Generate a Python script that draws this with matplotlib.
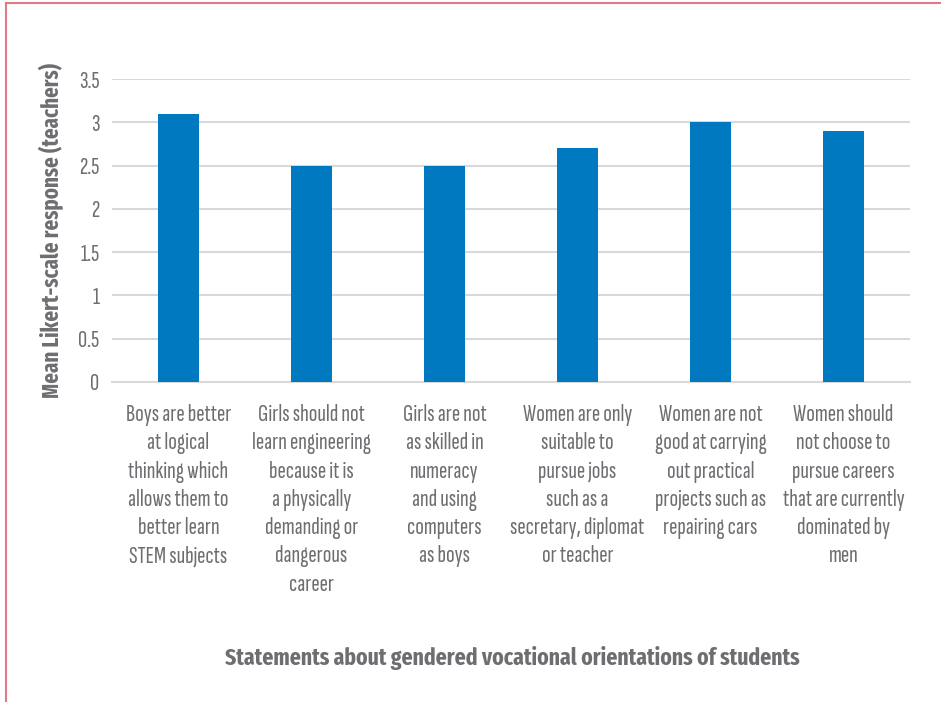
import matplotlib.pyplot as plt
from matplotlib.lines import Line2D
from matplotlib import font_manager

statements = [
    "Boys are better\nat logical\nthinking which\nallows them to\nbetter learn\nSTEM subjects",
    "Girls should not\nlearn engineering\nbecause it is\na physically\ndemanding or\ndangerous\ncareer",
    "Girls are not\nas skilled in\nnumeracy\nand using\ncomputers\nas boys",
    "Women are only\nsuitable to\npursue jobs\nsuch as a\nsecretary, diplomat\nor teacher",
    "Women are not\ngood at carrying\nout practical\nprojects such as\nrepairing cars",
    "Women should\nnot choose to\npursue careers\nthat are currently\ndominated by\nmen",
]
mean_response = [3.1, 2.5, 2.5, 2.7, 3.0, 2.9]
y_ticks = [0, 0.5, 1, 1.5, 2, 2.5, 3, 3.5]
y_tick_labels = ["0", "0.5", "1", "1.5", "2", "2.5", "3", "3.5"]
y_title = "Mean Likert-scale response (teachers)"
x_title = "Statements about gendered vocational orientations of students"

BLUE = "#0079c1"
GREY_TEXT = "#6d6e71"
GRID = "#d9d9d9"
FRAME = "#e07a85"

# pick a narrow face close to the original's Myriad Condensed
installed = {f.name for f in font_manager.fontManager.ttflist}
regular_pref = ["Sofia Sans Extra Condensed", "Saira Extra Condensed",
                "Fira Sans Extra Condensed", "PT Sans Narrow", "DejaVu Sans"]
bold_pref = ["Fira Sans Extra Condensed", "PT Sans Narrow", "DejaVu Sans"]
reg_font = next(f for f in regular_pref if f in installed or f == "DejaVu Sans")
bold_font = next(f for f in bold_pref if f in installed or f == "DejaVu Sans")

fig = plt.figure(figsize=(9.41, 7.02), dpi=100)
renderer = fig.canvas.get_renderer()


def text_px(s, family, size, weight="normal", linespacing=1.0):
    t = fig.text(0, 0, s, family=family, fontsize=size, fontweight=weight,
                 linespacing=linespacing)
    bb = t.get_window_extent(renderer)
    t.remove()
    return bb.width, bb.height


# size the texts so their widths match the reference picture
w, _ = text_px("Boys are better", reg_font, 20, "medium")
label_size = 20 * 105 / w
h1 = text_px("A", reg_font, label_size, "medium")[1]
h2 = text_px("A\nA", reg_font, label_size, "medium")[1]
label_spacing = 28.5 / (h2 - h1) * 28.5 / 27
w, _ = text_px(x_title, bold_font, 20, "bold")
xtitle_size = 20 * 576 / w
w, _ = text_px(y_title, bold_font, 20, "bold")
ytitle_size = 20 * 335 / w

ax = fig.add_axes([112 / 941, 1 - 382 / 702, 798 / 941, 303 / 702])

x = range(len(mean_response))
ax.bar(x, mean_response, width=0.31, color=BLUE, zorder=3)
ax.set_xlim(-0.5, len(mean_response) - 0.5)
ax.set_ylim(0, 3.5)
ax.set_yticks(y_ticks)
ax.set_yticklabels(y_tick_labels, family=reg_font, fontsize=label_size,
                   fontweight="medium", color=GREY_TEXT)
ax.yaxis.grid(True, color=GRID, linewidth=1.5, zorder=0)
ax.set_axisbelow(True)
for s in ["top", "right", "left"]:
    ax.spines[s].set_visible(False)
ax.spines["bottom"].set_color(GRID)
ax.spines["bottom"].set_linewidth(1.5)
ax.tick_params(axis="y", length=0, pad=9)
ax.tick_params(axis="x", length=0, pad=16)
ax.set_xticks(list(x))
ax.set_xticklabels(statements, family=reg_font, fontsize=label_size,
                   fontweight="medium", color=GREY_TEXT, linespacing=label_spacing)

ax.set_ylabel(y_title, family=bold_font, fontsize=ytitle_size,
              fontweight="bold", color=GREY_TEXT)
ax.yaxis.set_label_coords((64 - 112) / 798, 0.5)
fig.text(512 / 941, 1 - 658 / 702, x_title, ha="center", va="center",
         family=bold_font, fontsize=xtitle_size, fontweight="bold", color=GREY_TEXT)

# pink frame (top and left edges of the surrounding box)
fig.add_artist(Line2D([6 / 941, 1], [1 - 3 / 702, 1 - 3 / 702],
                      transform=fig.transFigure, color=FRAME, linewidth=1.5))
fig.add_artist(Line2D([6 / 941, 6 / 941], [0, 1 - 3 / 702],
                      transform=fig.transFigure, color=FRAME, linewidth=1.5))

fig.savefig("out.png", dpi=100)
